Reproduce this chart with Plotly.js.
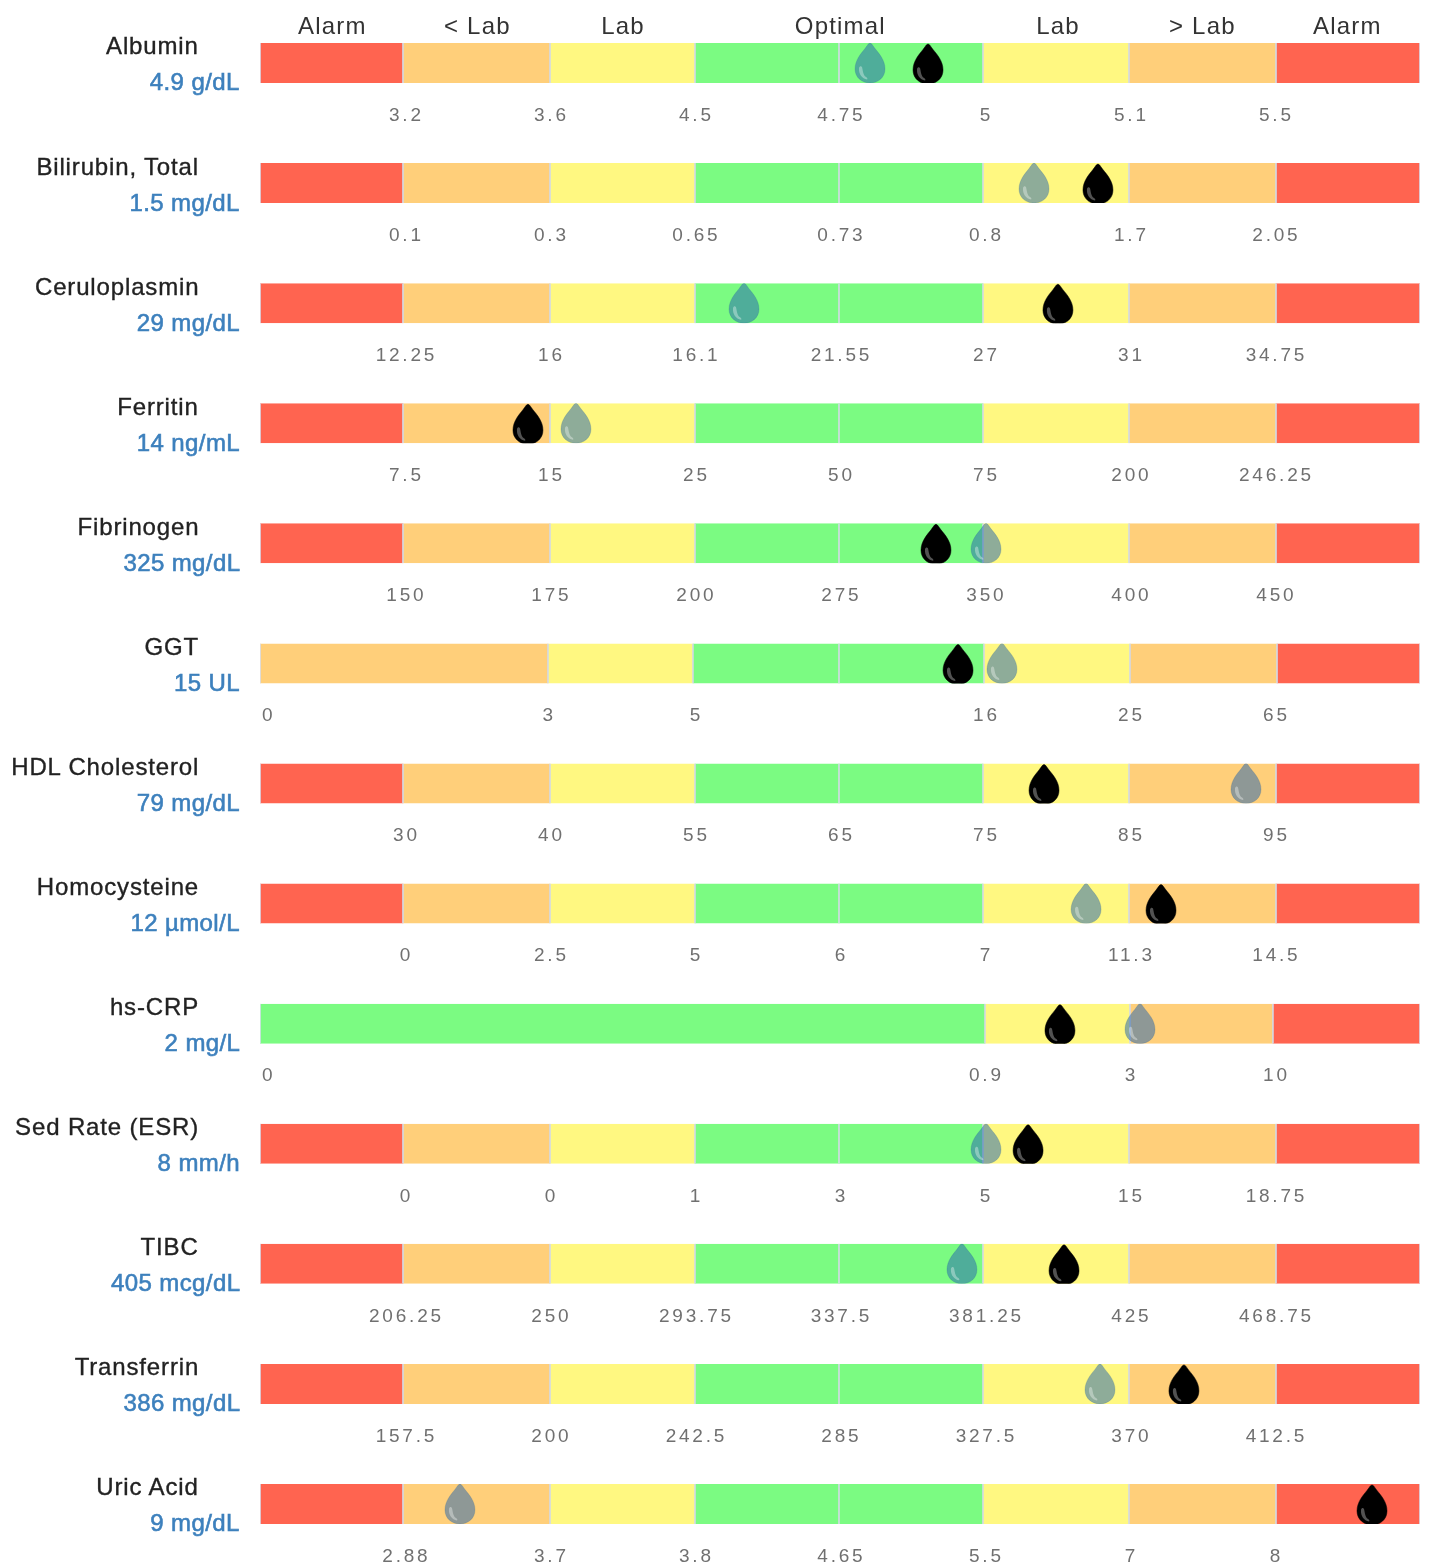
<!DOCTYPE html>
<html>
<head>
<meta charset="utf-8">
<script src="https://cdn.plot.ly/plotly-3.0.1.min.js"></script>
<style>
html,body{margin:0;padding:0;background:#fff;overflow:hidden}
#chart{width:1432px;height:1566px;filter:blur(0.65px)}
.xaxislayer-above text{letter-spacing:2.8px;translate:1.4px 0}
</style>
</head>
<body>
<div id="chart"></div>
<script>
const zoneLabels = ["Alarm", "< Lab", "Lab", "Optimal", "Lab", "> Lab", "Alarm"];
const zoneLabelCenters = [0.5, 1.5, 2.5, 4, 5.5, 6.5, 7.5];
const rowNames = ["Albumin","Bilirubin, Total","Ceruloplasmin","Ferritin","Fibrinogen","GGT","HDL Cholesterol","Homocysteine","hs-CRP","Sed Rate (ESR)","TIBC","Transferrin","Uric Acid"];
const rowResults = ["4.9 g/dL","1.5 mg/dL","29 mg/dL","14 ng/mL","325 mg/dL","15 UL","79 mg/dL","12 µmol/L","2 mg/L","8 mm/h","405 mcg/dL","386 mg/dL","9 mg/dL"];
const redC="#ff6450", orangeC="#ffcf7a", yellowC="#fff881", greenC="#7bfb82";
const fullZones = [[0.986,redC],[1.014,orangeC],[1,yellowC],[0.993,greenC],[0.993,greenC],[1.007,yellowC],[1.014,orangeC],[0.993,redC]];
const ggtZones = [[1.986,orangeC],[1.0,yellowC],[1.007,greenC],[1,greenC],[1.007,yellowC],[1.014,orangeC],[0.986,redC]];
const crpZones = [[5,greenC],[1,yellowC],[0.986,orangeC],[1.014,redC]];
const rowZones = [fullZones,fullZones,fullZones,fullZones,fullZones,ggtZones,fullZones,fullZones,crpZones,fullZones,fullZones,fullZones,fullZones];
const stdTickPos = [1,2,3,4,5,6,7];
const ggtTickPos = [0.05,1.985,3,5,6,7];
const crpTickPos = [0.05,5,6,7];
const rowTickPos = [stdTickPos,stdTickPos,stdTickPos,stdTickPos,stdTickPos,ggtTickPos,stdTickPos,stdTickPos,crpTickPos,stdTickPos,stdTickPos,stdTickPos,stdTickPos];
const rowTickLabels = [
 ["3.2","3.6","4.5","4.75","5","5.1","5.5"],
 ["0.1","0.3","0.65","0.73","0.8","1.7","2.05"],
 ["12.25","16","16.1","21.55","27","31","34.75"],
 ["7.5","15","25","50","75","200","246.25"],
 ["150","175","200","275","350","400","450"],
 ["0","3","5","16","25","65"],
 ["30","40","55","65","75","85","95"],
 ["0","2.5","5","6","7","11.3","14.5"],
 ["0","0.9","3","10"],
 ["0","0","1","3","5","15","18.75"],
 ["206.25","250","293.75","337.5","381.25","425","468.75"],
 ["157.5","200","242.5","285","327.5","370","412.5"],
 ["2.88","3.7","3.8","4.65","5.5","7","8"]
];
// Marker positions, in zone units (0 to 8)
const currentPos = [4.607,5.779,5.503,1.848,4.662,4.814,5.407,6.214,5.517,5.297,5.545,6.372,7.669];
const previousPos = [4.207,5.338,3.338,2.179,5.007,5.117,6.800,5.697,6.069,5.007,4.841,5.793,1.379];

const W=1432, H=1566, barTop=43, barH=40, pitch=120.08, xL=260, xR=1420;
const dropPath="M0,20 C1.5,20 3,17 5,14.5 C9,9.5 15,3 15,-6 C15,-14.5 8,-20 0,-20 C-8,-20 -15,-14.5 -15,-6 C-15,3 -9,9.5 -5,14.5 C-3,17 -1.5,20 0,20 Z";
const shinePath="M-11,-5 C-11.5,-11 -8,-15.5 -3,-16.5 C-2,-16 -3,-14.5 -4,-14 C-7,-12 -7,-8 -8,-4 C-9,-2.5 -10.5,-3 -11,-5 Z";

const data=[], shapes=[], annotations=[];
const layout={width:W,height:H,margin:{l:0,r:0,t:0,b:0},paper_bgcolor:"#fff",plot_bgcolor:"#fff",
  showlegend:false,barmode:"overlay",hovermode:"closest",shapes,annotations,
  font:{family:"Liberation Sans, Arial, sans-serif"}};

rowNames.forEach((name,i)=>{
  const n=i===0?"":String(i+1);
  const xa="x"+n, ya="y"+n;
  const top=barTop+pitch*i, bot=top+barH;
  layout["xaxis"+n]={domain:[xL/W,xR/W],range:[0,8],anchor:ya,fixedrange:true,showgrid:false,zeroline:false,showline:false,
    tickmode:"array",tickvals:rowTickPos[i],ticktext:rowTickLabels[i],ticks:"outside",ticklen:14,tickcolor:"rgba(0,0,0,0)",
    tickfont:{size:19,color:"#707070",family:"Liberation Sans, Arial, sans-serif"}};
  layout["yaxis"+n]={domain:[1-bot/H,1-top/H],range:[0,1],anchor:xa,fixedrange:true,showgrid:false,zeroline:false,showline:false,showticklabels:false,ticks:""};

  const zones=rowZones[i];
  let c=0; const bases=zones.map(z=>{const b=c;c+=z[0];return b;});
  data.push({type:"bar",orientation:"h",xaxis:xa,yaxis:ya,y:zones.map(()=>0.5),x:zones.map(z=>z[0]),base:bases,width:1,
    marker:{color:zones.map(z=>z[1]),line:{width:0}},hoverinfo:"skip"});
  data.push({type:"scatter",mode:"markers",xaxis:xa,yaxis:ya,x:[currentPos[i],previousPos[i]],y:[0.5,0.5],
    marker:{size:28,color:"rgba(0,0,0,0)"},text:[rowResults[i],"previous"],hoverinfo:"text"});

  // zone dividers
  bases.concat([8]).forEach((b,k)=>{
    const edge=(b===0||b===8);
    shapes.push({type:"line",xref:xa,yref:ya,x0:b,x1:b,y0:0,y1:1,layer:"above",
      line:{color:edge?"#d9dfee":"#d3d9e6",width:1.6}});
  });
  // previous result drop (translucent blue) and current result drop (black)
  const dropCommon={type:"path",xref:xa,yref:ya,xsizemode:"pixel",ysizemode:"pixel",yanchor:0.5,layer:"above"};
  shapes.push(Object.assign({},dropCommon,{xanchor:previousPos[i],path:dropPath,fillcolor:"rgba(38,101,176,0.52)",line:{color:"rgba(38,101,150,0.2)",width:1}}));
  shapes.push(Object.assign({},dropCommon,{xanchor:previousPos[i],path:shinePath,fillcolor:"rgba(255,255,255,0.35)",line:{width:0}}));
  shapes.push(Object.assign({},dropCommon,{xanchor:currentPos[i],yanchor:0.475,path:dropPath,fillcolor:"#000",line:{color:"#000",width:0.5}}));
  shapes.push(Object.assign({},dropCommon,{xanchor:currentPos[i],yanchor:0.475,path:shinePath,fillcolor:"rgba(255,255,255,0.32)",line:{width:0}}));

  annotations.push({xref:"paper",yref:"paper",x:201/W,y:1-(top+3)/H,xanchor:"right",yanchor:"middle",align:"right",showarrow:false,
    text:name,font:{size:24,color:"#222222"}});
  annotations.push({xref:"paper",yref:"paper",x:242/W,y:1-(top+39)/H,xanchor:"right",yanchor:"middle",align:"right",showarrow:false,
    text:rowResults[i],font:{size:24,color:"#3d80bd"}});
});
zoneLabels.forEach((t,k)=>{
  annotations.push({xref:"x",yref:"paper",x:zoneLabelCenters[k],y:1-26/H,xanchor:"center",yanchor:"middle",showarrow:false,
    text:t.replace("<","&lt;").replace(">","&gt;"),font:{size:24,color:"#333333"}});
});
// per-kind text styling, keyed by annotation index
let css="";
annotations.forEach((a,k)=>{
  const sel='.annotation[data-index="'+k+'"] text';
  if(k>=rowNames.length*2) css+=sel+"{letter-spacing:1.2px}";
  else if(k%2===0) css+=sel+"{letter-spacing:0.85px;stroke:#222222;stroke-width:0.35px}";
  else css+=sel+"{letter-spacing:0.4px;stroke:#3d80bd;stroke-width:0.6px}";
});
const st=document.createElement("style");st.textContent=css;document.head.appendChild(st);
Plotly.newPlot("chart",data,layout,{displayModeBar:false,responsive:false});
</script>
</body>
</html>
